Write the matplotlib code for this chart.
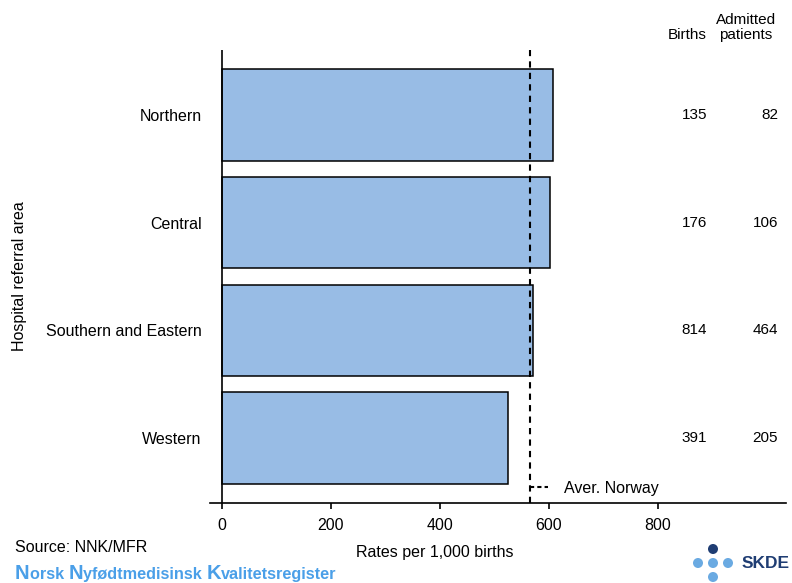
import matplotlib.pyplot as plt
import matplotlib.transforms as mtransforms

plt.rcParams['font.family'] = ['Liberation Sans', 'DejaVu Sans']

# data
areas = ['Northern', 'Central', 'Southern and Eastern', 'Western']
rates = [607, 602, 570, 524]
births = [135, 176, 814, 391]
admitted = [82, 106, 464, 205]
avg_norway = 565
xticks = [0, 200, 400, 600, 800]

BAR_COLOR = '#98bce5'
DARK = '#1f3d73'
LIGHT = '#6aaae2'
BLUE_TXT = '#4a9fe8'
FS = 11.5

W, H = 792, 583
fig = plt.figure(figsize=(W / 100, H / 100), dpi=100)
ax = fig.add_axes([210 / W, 80 / H, 576 / W, 453 / H])

ypos = list(range(len(areas) - 1, -1, -1))
ax.barh(ypos, rates, height=0.85, color=BAR_COLOR, edgecolor='black', linewidth=1.1, zorder=2)
ax.axvline(avg_norway, color='black', linestyle=(0, (3, 2.5)), linewidth=1.5, zorder=3,
           label='Aver. Norway')
ax.axvline(0, color='black', linewidth=1.2, zorder=4)

ax.set_xlim(-22, 1035)
ax.set_ylim(-0.6, 3.6)
ax.set_yticks(ypos)
ax.set_yticklabels(areas, fontsize=FS)
ax.set_xticks(xticks)
ax.set_xticklabels([str(v) for v in xticks], fontsize=FS)
ax.tick_params(axis='y', length=0, pad=6)
ax.tick_params(axis='x', length=4, width=1.2, pad=7)
for s in ['top', 'right', 'left']:
    ax.spines[s].set_visible(False)
ax.spines['bottom'].set_linewidth(1.2)

leg = ax.legend(loc='center left', bbox_to_anchor=(0.556, 0.033), frameon=False,
                handlelength=1.1, handletextpad=1.0, borderpad=0, borderaxespad=0,
                fontsize=FS)
leg.get_lines()[0].set_linestyle((0, (2, 1.5)))

# counts on the right
tr = mtransforms.blended_transform_factory(fig.transFigure, ax.transData)
for y, b, a in zip(ypos, births, admitted):
    ax.text(707 / W, y, str(b), transform=tr, ha='right', va='center', fontsize=11)
    ax.text(778 / W, y, str(a), transform=tr, ha='right', va='center', fontsize=11)

fig.text(707 / W, 1 - 35 / H, 'Births', ha='right', va='center', fontsize=11)
fig.text(746 / W, 1 - 27.5 / H, 'Admitted\npatients', ha='center', va='center',
         fontsize=11, linespacing=1.15)

fig.text(20 / W, 1 - 276 / H, 'Hospital referral area', rotation=90, ha='center',
         va='center', fontsize=FS)
fig.text(435 / W, 1 - 553 / H, 'Rates per 1,000 births', ha='center', va='center', fontsize=FS)
fig.text(15 / W, 1 - 548 / H, 'Source: NNK/MFR', ha='left', va='center', fontsize=FS)

# register name with larger initials
pieces = [('N', 14.5), ('orsk ', 11.7), ('N', 14.5), ('yfødtmedisinsk ', 11.7),
          ('K', 14.5), ('valitetsregister', 11.7)]
renderer = fig.canvas.get_renderer()
x = 15
for txt, fs in pieces:
    t = fig.text(x / W, 1 - 579 / H, txt, ha='left', va='baseline', fontsize=fs,
                 fontweight='bold', color=BLUE_TXT)
    x += t.get_window_extent(renderer).width

# SKDE logo
lax = fig.add_axes([688 / W, 0, 52 / W, 43 / H])
lax.set_xlim(688, 740)
lax.set_ylim(583, 540)
lax.axis('off')
dots_x = [713, 698, 713, 728, 713]
dots_y = [549, 563, 563, 563, 577]
dots_c = [DARK, LIGHT, LIGHT, LIGHT, LIGHT]
lax.scatter(dots_x, dots_y, s=52, c=dots_c, linewidths=0)
fig.text(742 / W, 1 - 563 / H, 'SKDE', ha='left', va='center', fontsize=12.5,
         fontweight='bold', color=DARK)

fig.savefig('out.png', dpi=100)
